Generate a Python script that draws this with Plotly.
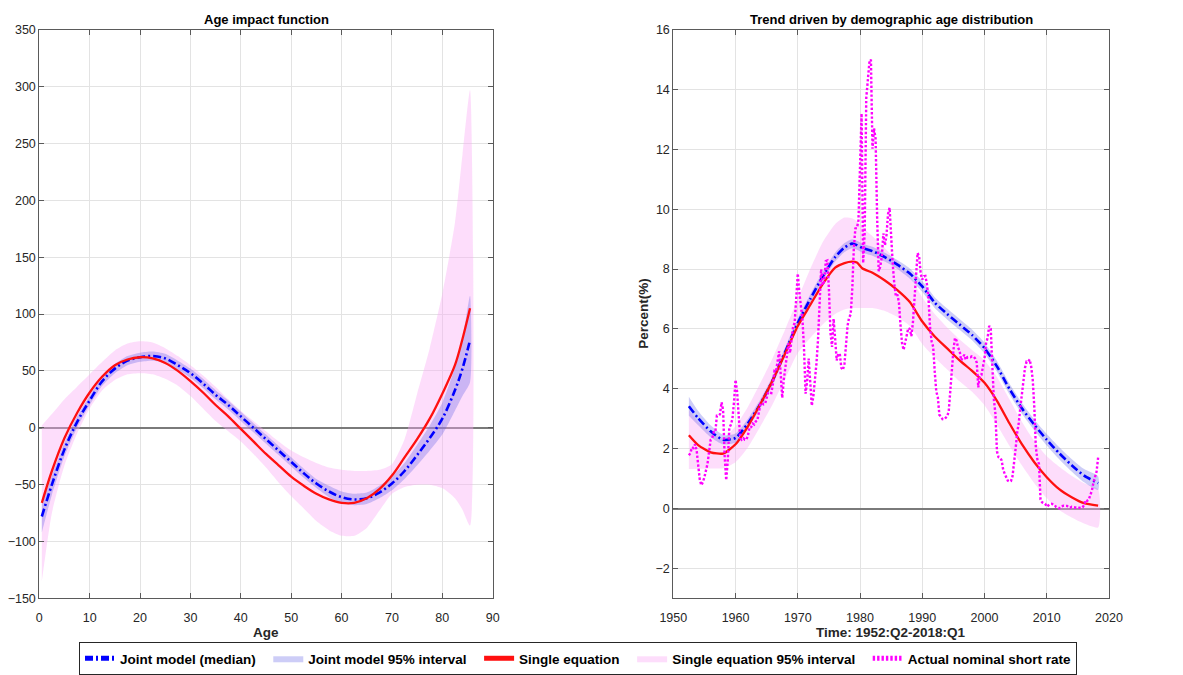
import plotly.graph_objects as go

# ---------------- Left panel: Age impact function ----------------
age = [0.5, 2.5, 5, 7.5, 10, 12.5, 15, 17.5, 20, 22.5, 25, 27.5, 30, 32.5, 35, 37.5,
       40, 42.5, 45, 47.5, 50, 52.5, 55, 57.5, 60, 62.5, 65, 67.5, 70, 72.5, 75, 77.5,
       80, 82.5, 84, 85.5]
single_eq = [-66, -38, -9, 13, 31, 45, 55, 60, 62, 61, 57, 50, 41, 31, 20, 10,
             -1, -12, -23, -33, -43, -51, -58, -63, -66, -66, -62, -54, -42, -26, -10, 8,
             30, 55, 78, 105]
joint_med = [-78, -50, -19, 5, 24, 41, 52, 59, 62, 63, 61, 55, 48, 39, 29, 20,
             10, 0, -10, -20, -30, -40, -49, -56, -61, -63, -62, -57, -49, -38, -24, -9,
             8, 33, 52, 77]
joint_lo = [-92, -59, -25, 0, 20, 37, 48, 55, 58, 59, 57, 51, 44, 35, 25, 16,
            6, -4, -14, -24, -34, -44, -53, -61, -66, -68, -67, -62, -55, -45, -33, -20,
            -6, 15, 28, 40]
joint_hi = [-66, -42, -13, 10, 28, 45, 56, 63, 66, 67, 65, 59, 52, 43, 33, 24,
            14, 4, -6, -16, -26, -36, -45, -51, -56, -58, -57, -51, -43, -31, -15, 2,
            22, 53, 78, 116]
single_lo = [-135, -75, -33, -5, 17, 33, 42, 47, 48, 47, 43, 37, 28, 17, 6, -3,
             -12, -23, -35, -48, -60, -71, -82, -90, -95, -95, -88, -73, -58, -52, -50, -50,
             -53, -62, -72, -86]
single_hi = [2, 12, 25, 36, 47, 58, 68, 74, 76, 75, 70, 63, 55, 46, 36, 25,
             15, 6, -3, -12, -20, -26, -31, -35, -37, -38, -38, -37, -32, -10, 30, 70,
             118, 180, 240, 297]

# ---------------- Right panel: trend (time) ----------------
t_trend = [1952.5, 1954, 1956, 1958, 1960, 1962, 1964, 1966, 1968, 1970, 1972, 1974,
           1976, 1977.5, 1978.7, 1979.5, 1980.4, 1982, 1984, 1986, 1988, 1990, 1992,
           1994, 1996, 1998, 2000, 2002, 2004, 2006, 2008, 2010, 2012, 2014, 2016, 2018.25]
trend_joint = [3.42, 3.02, 2.58, 2.30, 2.36, 2.85, 3.5, 4.3, 5.25, 6.2, 7.0, 7.75,
               8.4, 8.72, 8.85, 8.8, 8.7, 8.6, 8.4, 8.15, 7.85, 7.42, 6.88,
               6.5, 6.15, 5.8, 5.36, 4.75, 4.0, 3.35, 2.8, 2.3, 1.85, 1.45, 1.1, 0.85]
trend_joint_lo = [3.1, 2.78, 2.38, 2.14, 2.21, 2.7, 3.35, 4.15, 5.1, 6.05, 6.85, 7.6,
                  8.25, 8.57, 8.7, 8.65, 8.55, 8.45, 8.25, 8.0, 7.68, 7.24, 6.7,
                  6.32, 5.97, 5.62, 5.18, 4.57, 3.82, 3.17, 2.62, 2.11, 1.65, 1.24, 0.88, 0.62]
trend_joint_hi = [3.74, 3.26, 2.78, 2.46, 2.51, 3.0, 3.65, 4.45, 5.4, 6.35, 7.15, 7.9,
                  8.55, 8.87, 9.0, 8.95, 8.85, 8.75, 8.55, 8.3, 8.02, 7.6, 7.06,
                  6.68, 6.33, 5.98, 5.54, 4.93, 4.18, 3.53, 2.98, 2.49, 2.05, 1.66, 1.32, 1.08]
trend_single = [2.45, 2.12, 1.88, 1.84, 2.15, 2.75, 3.5, 4.3, 5.2, 6.1, 6.8, 7.5,
                8.05, 8.2, 8.25, 8.22, 8.02, 7.88, 7.62, 7.3, 6.9, 6.25, 5.75,
                5.35, 4.95, 4.6, 4.2, 3.6, 2.85, 2.15, 1.55, 1.05, 0.65, 0.38, 0.18, 0.1]
trend_single_lo = [1.32, 1.33, 1.34, 1.35, 1.55, 2.05, 2.75, 3.5, 4.35, 5.2, 5.7, 6.15,
                   6.5, 6.65, 6.7, 6.7, 6.7, 6.7, 6.6, 6.4, 6.1, 5.5, 5.05,
                   4.65, 4.25, 3.9, 3.45, 2.8, 2.1, 1.45, 0.85, 0.35, -0.05, -0.3, -0.5, -0.63]
trend_single_hi = [3.3, 2.9, 2.55, 2.35, 2.75, 3.4, 4.2, 5.05, 6.0, 7.0, 8.0, 8.9,
                   9.5, 9.72, 9.7, 9.6, 9.4, 9.1, 8.7, 8.25, 7.75, 7.05, 6.5,
                   6.05, 5.65, 5.3, 4.95, 4.4, 3.65, 2.9, 2.25, 1.75, 1.4, 1.1, 0.85, 0.65]

# Actual nominal short rate, quarterly 1952:Q2 - 2018:Q1
short_rate = [
    1.78, 1.85, 2.05,
    2.02, 2.15, 1.95, 1.45,
    0.98, 0.78, 0.88, 1.05,
    1.25, 1.50, 1.90, 2.30,
    2.35, 2.55, 2.55, 3.10,
    3.10, 3.15, 3.55, 3.30,
    1.75, 0.95, 1.60, 2.70,
    2.80, 3.00, 3.55, 4.30,
    3.90, 3.00, 2.35, 2.30,
    2.35, 2.30, 2.30, 2.45,
    2.72, 2.72, 2.84, 2.81,
    2.91, 2.94, 3.29, 3.50,
    3.53, 3.48, 3.50, 3.68,
    3.89, 3.87, 3.86, 4.16,
    4.60, 4.58, 4.99, 5.25,
    4.51, 3.70, 4.30, 4.75,
    5.05, 5.52, 5.20, 5.58,
    6.09, 6.20, 7.02, 7.85,
    7.21, 6.67, 6.33, 5.35,
    3.84, 4.25, 5.01, 4.23,
    3.44, 3.75, 4.24, 4.85,
    5.64, 6.61, 8.00, 7.47,
    7.60, 8.27, 8.29, 7.34,
    5.88, 5.40, 6.34, 5.68,
    4.95, 5.17, 5.17, 4.70,
    4.63, 4.84, 5.50, 6.11,
    6.39, 6.48, 7.32, 8.68,
    9.36, 9.37, 9.63, 11.80,
    13.20, 8.20, 9.24, 13.71,
    14.37, 14.90, 15.00, 12.02,
    12.70, 12.36, 9.71, 7.93,
    8.08, 8.42, 9.19, 8.79,
    9.13, 9.84, 10.05, 8.97,
    8.18, 7.52, 7.10, 7.15,
    6.89, 6.13, 5.53, 5.30,
    5.53, 5.73, 6.03, 6.00,
    5.76, 6.23, 7.01, 7.73,
    8.54, 8.41, 7.84, 7.65,
    7.76, 7.77, 7.49, 7.02,
    6.05, 5.59, 5.41, 4.58,
    3.91, 3.72, 3.13, 3.08,
    2.99, 2.98, 3.02, 3.08,
    3.25, 4.04, 4.51, 5.28,
    5.70, 5.62, 5.38, 5.27,
    4.95, 5.04, 5.14, 4.97,
    5.06, 5.07, 5.06, 5.09,
    5.08, 5.01, 4.88, 4.05,
    4.42, 4.46, 4.70, 5.02,
    5.52, 5.71, 6.10, 6.02,
    4.82, 3.66, 3.17, 1.91,
    1.72, 1.70, 1.61, 1.30,
    1.16, 1.04, 0.93, 0.90,
    0.92, 1.08, 1.49, 2.01,
    2.54, 2.86, 3.36, 3.83,
    4.38, 4.70, 4.91, 4.90,
    4.98, 4.74, 4.30, 3.39,
    2.04, 1.63, 1.49, 0.30,
    0.21, 0.18, 0.16, 0.06,
    0.11, 0.15, 0.16, 0.14,
    0.13, 0.05, 0.02, 0.01,
    0.07, 0.09, 0.10, 0.09,
    0.09, 0.05, 0.03, 0.06,
    0.05, 0.03, 0.03, 0.02,
    0.03, 0.02, 0.04, 0.12,
    0.29, 0.26, 0.30, 0.44,
    0.60, 0.87, 1.04, 1.23,
    1.70,
]
# quarter time stamps: 1952:Q2 ... 2018:Q1
quarters = [(y, q) for y in range(1952, 2019) for q in range(1, 5)]
quarters = [yq for yq in quarters if (1952, 2) <= yq <= (2018, 1)]
t_rate = [y + q / 4 for (y, q) in quarters]

# ---------------- Styles ----------------
FONT = "Liberation Sans, Arial, Helvetica, sans-serif"
BLUE = "#0000ff"
RED = "#ff1010"
MAG = "#ff00ff"
BLUE_FILL = "rgba(90,90,230,0.30)"
PINK_FILL = "rgba(250,170,245,0.40)"
W, H = 1183, 675

fig = go.Figure()


def band(x, lo, hi, color, name, xa, ya, show):
    fig.add_trace(go.Scatter(
        x=list(x) + list(x)[::-1], y=list(hi) + list(lo)[::-1],
        fill="toself", fillcolor=color, line=dict(width=0, color=color, shape="spline", smoothing=0.6),
        mode="lines", name=name, showlegend=show, hoverinfo="skip", xaxis=xa, yaxis=ya))


NB = "&nbsp;"
N_JM = "<b>Joint model (median)</b>" + NB * 2
N_JI = "<b>Joint model 95% interval</b>" + NB * 2
N_SE = "<b>Single equation</b>" + NB * 2
N_SI = "<b>Single equation 95% interval</b>" + NB * 2
N_AR = "<b>Actual nominal short rate</b>"

# Left panel
band(age, single_lo, single_hi, PINK_FILL, N_SI, "x", "y", False)
band(age, joint_lo, joint_hi, BLUE_FILL, N_JI, "x", "y", False)
fig.add_trace(go.Scatter(x=age, y=joint_med, mode="lines", showlegend=False,
                         line=dict(color=BLUE, width=2.6, dash="8px,3px,2px,3px", shape="spline"),
                         xaxis="x", yaxis="y"))
fig.add_trace(go.Scatter(x=age, y=single_eq, mode="lines", showlegend=False,
                         line=dict(color=RED, width=2.3, shape="spline"),
                         xaxis="x", yaxis="y"))

# Right panel (legend entries taken from here)
band(t_trend, trend_single_lo, trend_single_hi, PINK_FILL, N_SI, "x2", "y2", True)
band(t_trend, trend_joint_lo, trend_joint_hi, BLUE_FILL, N_JI, "x2", "y2", True)
fig.add_trace(go.Scatter(x=t_trend, y=trend_joint, mode="lines", name=N_JM,
                         line=dict(color=BLUE, width=2.6, dash="8px,3px,2px,3px", shape="spline", smoothing=0.6),
                         xaxis="x2", yaxis="y2"))
fig.add_trace(go.Scatter(x=t_trend, y=trend_single, mode="lines", name=N_SE,
                         line=dict(color=RED, width=2.3, shape="spline", smoothing=0.6),
                         xaxis="x2", yaxis="y2"))
fig.add_trace(go.Scatter(x=t_rate, y=short_rate, mode="lines", name=N_AR,
                         line=dict(color=MAG, width=2.4, dash="2.4px,2px"),
                         xaxis="x2", yaxis="y2"))

# legend ordering
ranks = {N_JM: 1, N_JI: 2, N_SE: 3, N_SI: 4, N_AR: 5}
for tr in fig.data:
    if tr.name in ranks:
        tr.legendrank = ranks[tr.name]

axis_common = dict(showline=True, linecolor="#5a5a5a", linewidth=1, mirror="ticks",
                   ticks="inside", ticklen=5, tickcolor="#5a5a5a", automargin=False,
                   showgrid=True, gridcolor="#e3e3e3", gridwidth=1,
                   tickfont=dict(family=FONT, size=12.5, color="#262626"))

XL = [39.3 / W, 492.7 / W]
XR = [673.3 / W, 1109.0 / W]
YD = [(H - 606.5) / H, (H - 30.0) / H]


def txt(text, xpx, ypx, size, color="#262626", angle=0):
    return dict(text=text, x=xpx / W, y=(H - ypx) / H, xref="paper", yref="paper",
                xanchor="center", yanchor="middle", textangle=angle, showarrow=False,
                font=dict(family=FONT, size=size, color=color))


fig.update_layout(
    width=W, height=H,
    template="none",
    margin=dict(l=0, r=0, t=0, b=0, pad=0),
    paper_bgcolor="white", plot_bgcolor="white",
    font=dict(family=FONT, color="#262626"),
    xaxis=dict(domain=XL, range=[0, 90], dtick=10, zeroline=False, anchor="y",
               ticklabelstandoff=8, **axis_common),
    yaxis=dict(domain=YD, range=[-150, 350], dtick=50, zeroline=True,
               zerolinecolor="#7a7a7a", zerolinewidth=1.5, anchor="x", **axis_common),
    xaxis2=dict(domain=XR, range=[1950, 2020], dtick=10, zeroline=False, anchor="y2",
                ticklabelstandoff=8, **axis_common),
    yaxis2=dict(domain=YD, range=[-3, 16], dtick=2, zeroline=True,
                zerolinecolor="#7a7a7a", zerolinewidth=1.5, anchor="x2", **axis_common),
    showlegend=True,
    legend=dict(orientation="h", x=79 / W, xanchor="left", y=(H - 651) / H, yanchor="top",
                bordercolor="#262626", borderwidth=1, bgcolor="white",
                font=dict(family=FONT, size=13.5, color="#000000"),
                itemsizing="constant", tracegroupgap=0),
    annotations=[
        txt("<b>Age impact function</b>", (39.3 + 492.7) / 2, 20, 13, "#000000"),
        txt("<b>Trend driven by demographic age distribution</b>", (673.3 + 1109) / 2, 20, 13, "#000000"),
        txt("<b>Age</b>", (39.3 + 492.7) / 2, 641, 13.5),
        txt("<b>Time: 1952:Q2-2018:Q1</b>", (673.3 + 1109) / 2, 641, 13.5),
        txt("<b>Percent(%)</b>", 644, 318, 13.5, angle=-90),
    ],
)

fig.write_html("out.html")
